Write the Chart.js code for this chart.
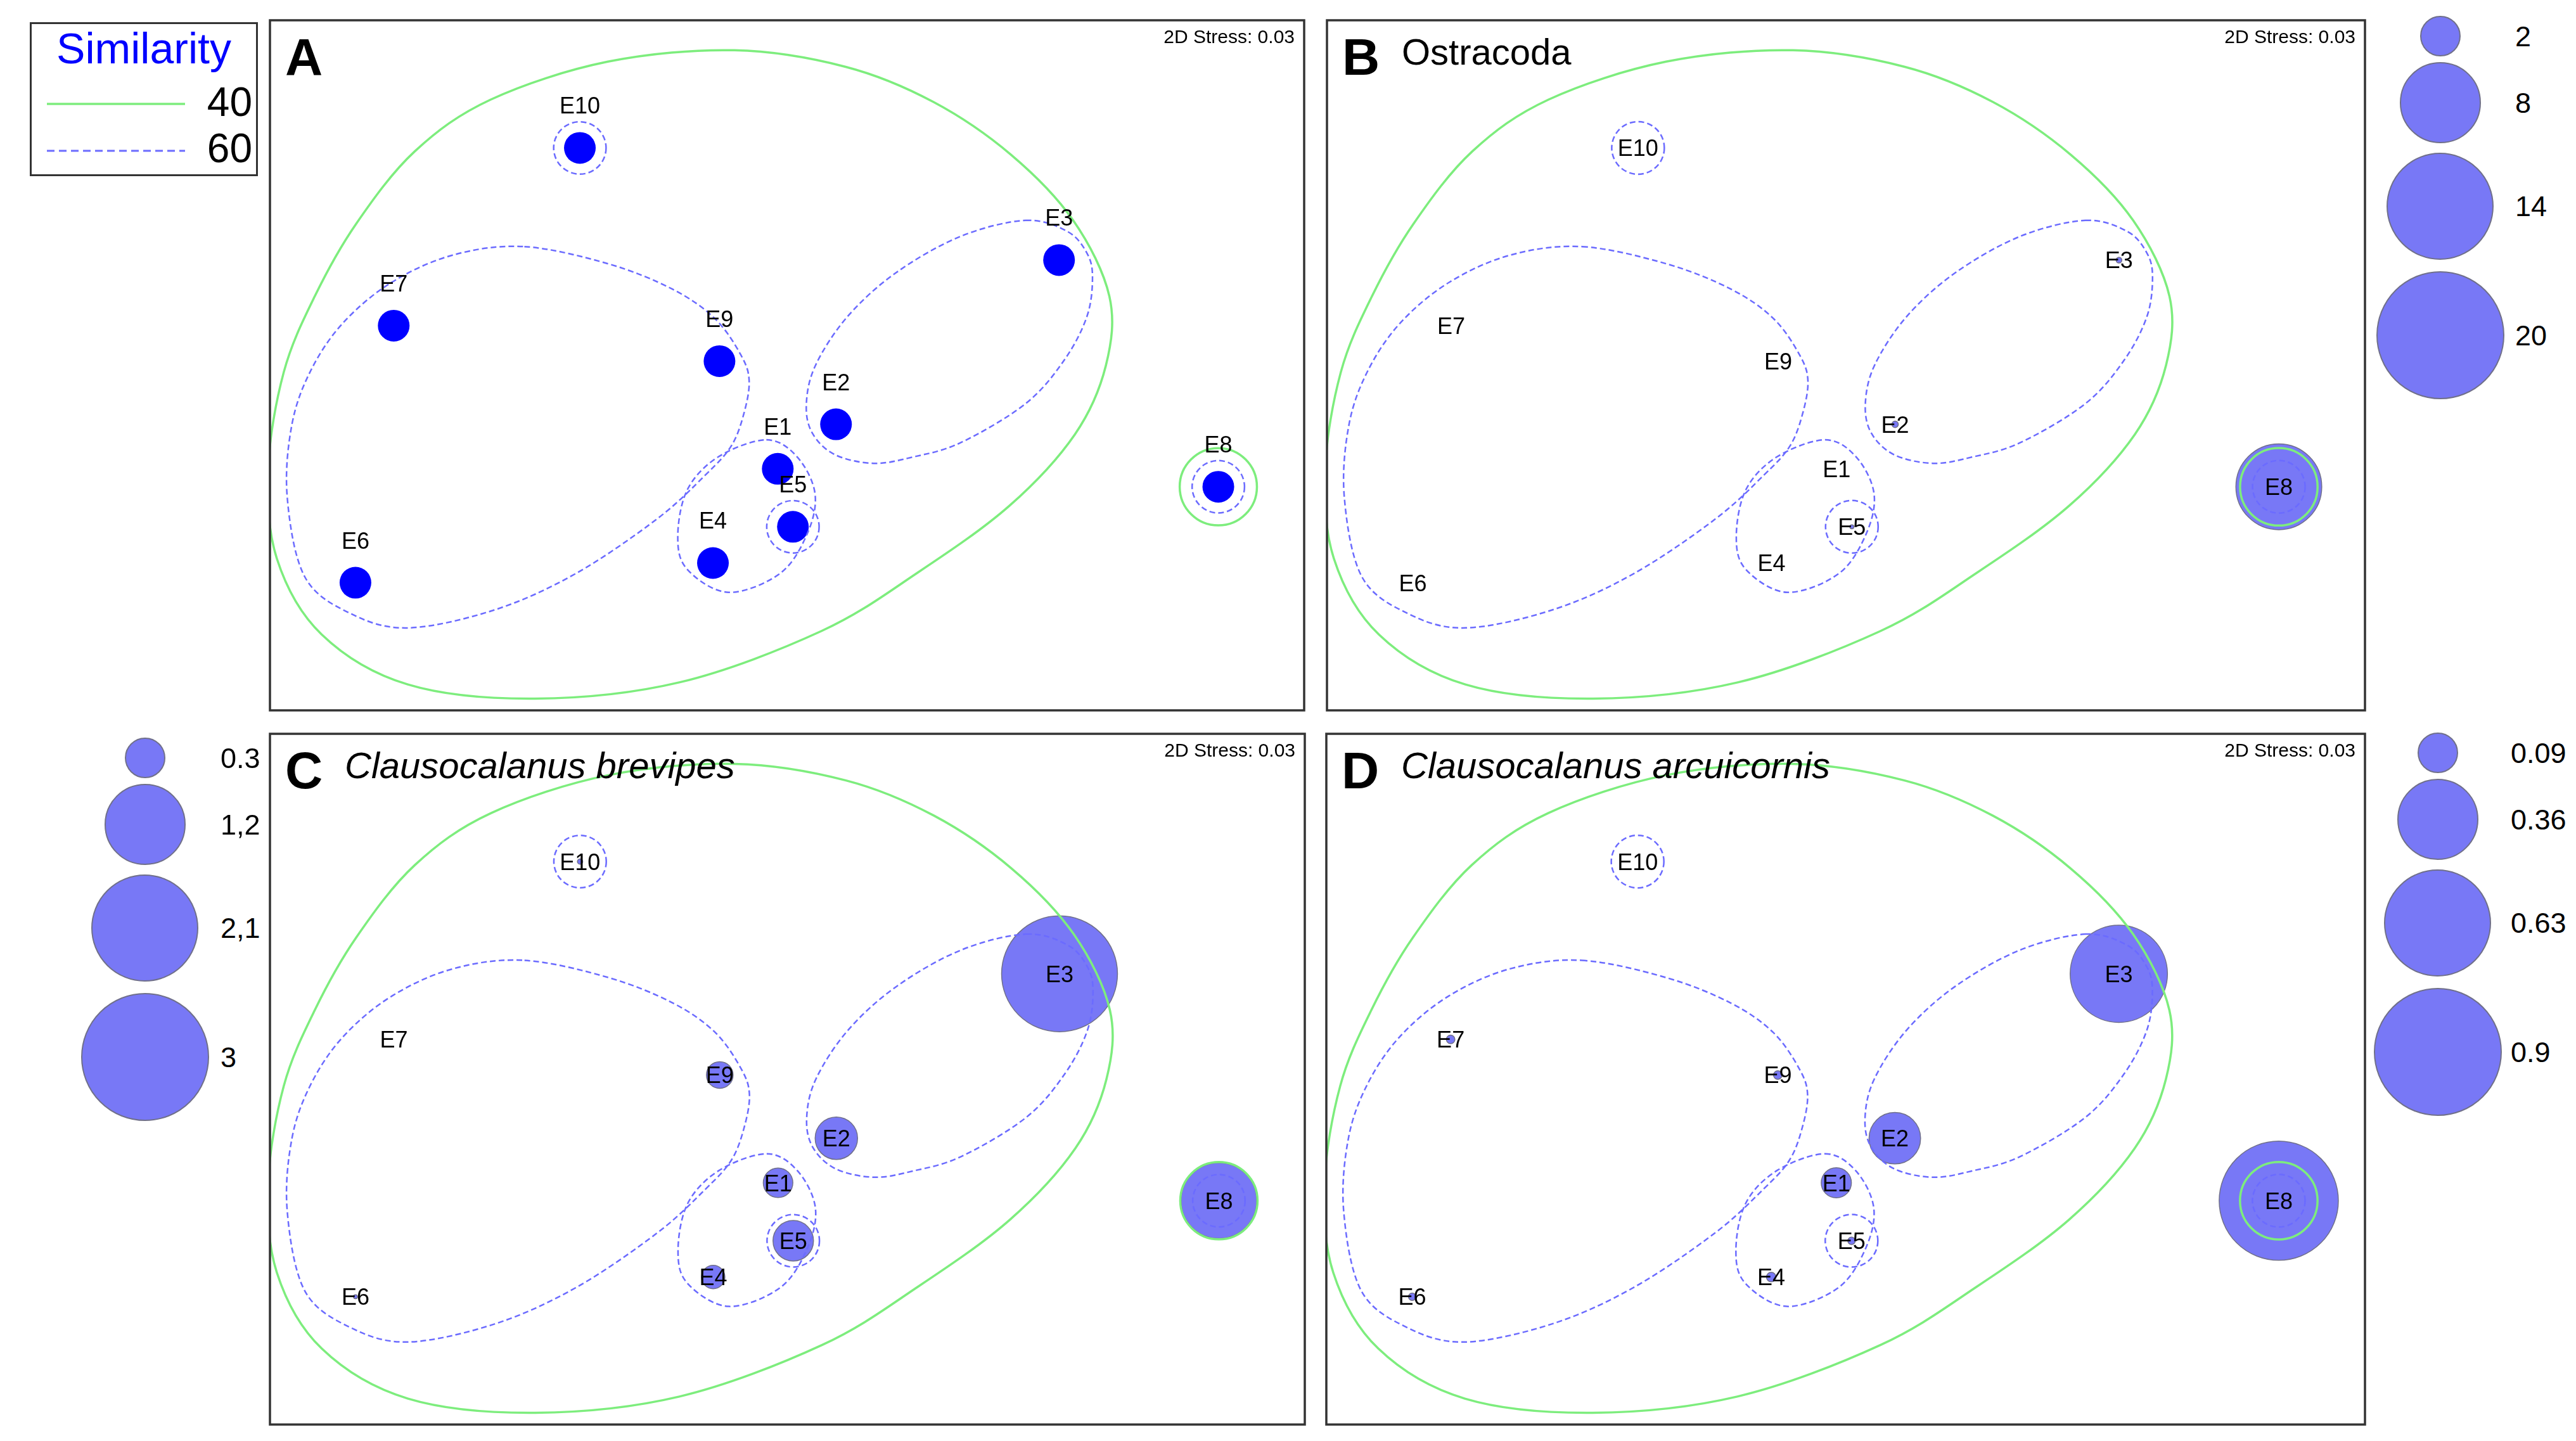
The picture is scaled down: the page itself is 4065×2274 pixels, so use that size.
<!DOCTYPE html>
<html>
<head>
<meta charset="utf-8">
<script src="https://cdn.jsdelivr.net/npm/chart.js@4.4.1/dist/chart.umd.min.js"></script>
<style>
  html, body { margin: 0; padding: 0; background: #fff; }
  body { width: 4065px; height: 2274px; position: relative; overflow: hidden; font-family: "Liberation Sans", Arial, sans-serif; }
  .abs { position: absolute; }
  .txt { position: absolute; line-height: 1; white-space: nowrap; color: #000; }
  .key-dot { position: absolute; border-radius: 50%; box-sizing: border-box; }
</style>
</head>
<body>
<div class="abs" style="left:47px;top:35px;width:360px;height:243px;border:3px solid #333;box-sizing:border-box;"></div>
<div class="txt" style="left:47px;top:42px;width:360px;text-align:center;font-size:68px;color:#0000ff;">Similarity</div>
<div class="txt" style="right:3667px;top:129px;font-size:64px;">40</div>
<div class="txt" style="right:3667px;top:202px;font-size:64px;">60</div>
<svg class="abs" style="left:0;top:0" width="420" height="300">
  <line x1="74" y1="164" x2="292" y2="164" stroke="#7ded7d" stroke-width="3.5"/>
  <line x1="74" y1="238" x2="292" y2="238" stroke="#6b6bff" stroke-width="3" stroke-dasharray="12 7"/>
</svg>

<script>
// station order and NMDS coordinates
const stations = ["E1", "E2", "E3", "E4", "E5", "E6", "E7", "E8", "E9", "E10"];
const mdsX = [-0.027, 0.142, 0.789, -0.215, 0.017, -1.252, -1.141, 1.251, -0.196, -0.601];
const mdsY = [-0.300, -0.171, 0.305, -0.573, -0.468, -0.630, 0.115, -0.352, 0.012, 0.630];

// abundances per station (E1..E10)
const ostracoda = [0, 0.05, 0.04, 0, 0.02, 0, 0, 9.0, 0, 0];
const brevipes = [0.16, 0.33, 2.46, 0.10, 0.30, 0.003, 0, 1.05, 0.13, 0.005];
const arcuicornis = [0.05, 0.146, 0.52, 0.005, 0.003, 0.003, 0.004, 0.78, 0.004, 0];

// bubble size keys
const ostracodaKey = [2, 8, 14, 20];
const ostracodaKeyText = ["2", "8", "14", "20"];
const brevipesKey = [0.3, 1.2, 2.1, 3];
const brevipesKeyText = ["0.3", "1,2", "2,1", "3"];
const arcuicornisKey = [0.09, 0.36, 0.63, 0.9];
const arcuicornisKeyText = ["0.09", "0.36", "0.63", "0.9"];

// cluster outlines in NMDS units
const group40 = [
  [-0.153, 0.913], [0.170, 0.865], [0.425, 0.763], [0.650, 0.610], [0.830, 0.420],
  [0.935, 0.200], [0.925, 0.000], [0.835, -0.200], [0.645, -0.407], [0.380, -0.600],
  [0.100, -0.770], [-0.313, -0.919], [-0.731, -0.966], [-1.100, -0.925], [-1.350, -0.780],
  [-1.480, -0.560], [-1.505, -0.300], [-1.460, -0.020], [-1.370, 0.200], [-1.250, 0.410],
  [-1.080, 0.620], [-0.860, 0.770], [-0.520, 0.880],
];
const group60Left = [
  [-0.762, 0.344], [-0.518, 0.294], [-0.331, 0.220], [-0.209, 0.135], [-0.134, 0.030],
  [-0.110, -0.044], [-0.125, -0.139], [-0.162, -0.234], [-0.237, -0.318], [-0.377, -0.445],
  [-0.612, -0.603], [-0.846, -0.708], [-1.099, -0.761], [-1.267, -0.719], [-1.399, -0.613],
  [-1.450, -0.381], [-1.436, -0.170], [-1.380, -0.012], [-1.286, 0.125], [-1.146, 0.241],
  [-0.968, 0.320],
];
const group60Right = [
  [0.692, 0.420], [0.813, 0.388], [0.870, 0.325], [0.886, 0.255], [0.870, 0.142],
  [0.804, 0.015], [0.692, -0.111], [0.504, -0.224], [0.364, -0.266], [0.251, -0.284],
  [0.139, -0.259], [0.073, -0.196], [0.056, -0.111], [0.083, 0.001], [0.176, 0.142],
  [0.317, 0.269], [0.504, 0.374],
];
const group60Mid = [
  [-0.060, -0.216], [0.029, -0.265], [0.081, -0.371], [0.059, -0.487], [-0.020, -0.603],
  [-0.170, -0.658], [-0.289, -0.592], [-0.317, -0.497], [-0.289, -0.360], [-0.199, -0.265],
];
const single60 = ["E5", "E8", "E10"];
const single40 = ["E8"];

const FONT = '"Liberation Sans", Arial, sans-serif';
const GREEN = "#7ded7d";
const DASH_BLUE = "#6b6bff";
const BUBBLE_FILL = "#7878f6";
const BUBBLE_EDGE = "#70708a";
const R_MAX = 101;
const PAD = 4;

const bubbleRadius = (v, max) => R_MAX * Math.sqrt(v / max);

function closedSpline(ctx, pts) {
  const n = pts.length;
  ctx.moveTo(pts[0][0], pts[0][1]);
  for (let i = 0; i < n; i++) {
    const p0 = pts[(i - 1 + n) % n];
    const p1 = pts[i];
    const p2 = pts[(i + 1) % n];
    const p3 = pts[(i + 2) % n];
    ctx.bezierCurveTo(
      p1[0] + (p2[0] - p0[0]) / 6, p1[1] + (p2[1] - p0[1]) / 6,
      p2[0] - (p3[0] - p1[0]) / 6, p2[1] - (p3[1] - p1[1]) / 6,
      p2[0], p2[1],
    );
  }
  ctx.closePath();
}

const contourPlugin = {
  id: "contours",
  afterDatasetsDraw(chart) {
    const { ctx, chartArea: a, scales: { x, y } } = chart;
    const toPx = ([u, v]) => [x.getPixelForValue(u), y.getPixelForValue(v)];
    const unit = x.getPixelForValue(1) - x.getPixelForValue(0);
    const at = (name) => {
      const i = stations.indexOf(name);
      return toPx([mdsX[i], mdsY[i]]);
    };
    ctx.save();
    ctx.beginPath();
    ctx.rect(a.left, a.top, a.width, a.height);
    ctx.clip();

    ctx.strokeStyle = GREEN;
    ctx.lineWidth = 3.5;
    ctx.setLineDash([]);
    ctx.beginPath();
    closedSpline(ctx, group40.map(toPx));
    ctx.stroke();
    single40.forEach((s) => {
      const [px, py] = at(s);
      ctx.beginPath();
      ctx.arc(px, py, 0.112 * unit, 0, Math.PI * 2);
      ctx.stroke();
    });

    ctx.strokeStyle = DASH_BLUE;
    ctx.lineWidth = 2.5;
    ctx.setLineDash([9, 5]);
    [group60Left, group60Right, group60Mid].forEach((g) => {
      ctx.beginPath();
      closedSpline(ctx, g.map(toPx));
      ctx.stroke();
    });
    single60.forEach((s) => {
      const [px, py] = at(s);
      ctx.beginPath();
      ctx.arc(px, py, 0.076 * unit, 0, Math.PI * 2);
      ctx.stroke();
    });
    ctx.restore();
  },
};

const labelPlugin = {
  id: "stationLabels",
  afterDraw(chart, args, opts) {
    const { ctx, chartArea: a, scales: { x, y } } = chart;
    ctx.save();
    ctx.font = `36px ${FONT}`;
    ctx.fillStyle = "#000";
    ctx.textAlign = "center";
    ctx.textBaseline = "alphabetic";
    stations.forEach((s, i) => {
      ctx.fillText(s, x.getPixelForValue(mdsX[i]), y.getPixelForValue(mdsY[i]) - opts.lift + 13);
    });
    ctx.strokeStyle = "#333";
    ctx.lineWidth = 3.5;
    ctx.setLineDash([]);
    ctx.strokeRect(a.left, a.top, a.width, a.height);
    ctx.restore();
  },
};

const panels = [
  { letter: "A", box: [426, 32, 2058, 1121], values: null },
  { letter: "B", box: [2094, 32, 3732, 1121], values: ostracoda, keyMax: 20, title: "Ostracoda", italic: false },
  { letter: "C", box: [426, 1158, 2059, 2248], values: brevipes, keyMax: 3, title: "Clausocalanus brevipes", italic: true },
  { letter: "D", box: [2093, 1158, 3732, 2248], values: arcuicornis, keyMax: 0.9, title: "Clausocalanus arcuicornis", italic: true },
];

function addText(text, style) {
  const el = document.createElement("div");
  el.className = "txt";
  el.textContent = text;
  Object.assign(el.style, style);
  document.body.appendChild(el);
}

function renderPanel(p) {
  const [l, t, r, b] = p.box;
  const w = r - l + 2 * PAD;
  const h = b - t + 2 * PAD;
  const canvas = document.createElement("canvas");
  canvas.width = w;
  canvas.height = h;
  canvas.className = "abs";
  Object.assign(canvas.style, { left: `${l - PAD}px`, top: `${t - PAD}px`, width: `${w}px`, height: `${h}px` });
  document.body.appendChild(canvas);

  const bubbles = !!p.values;
  const points = stations.map((s, i) => ({
    x: mdsX[i],
    y: mdsY[i],
    r: bubbles ? bubbleRadius(p.values[i], p.keyMax) : 25,
  }));

  new Chart(canvas, {
    type: bubbles ? "bubble" : "scatter",
    data: {
      datasets: [
        {
          data: points,
          backgroundColor: bubbles ? BUBBLE_FILL : "#0000ff",
          borderColor: BUBBLE_EDGE,
          borderWidth: bubbles ? 1.5 : 0,
          pointRadius: 25,
        },
      ],
    },
    options: {
      responsive: false,
      animation: false,
      events: [],
      layout: { padding: PAD, autoPadding: false },
      scales: {
        x: { type: "linear", min: -1.5, max: 1.5, display: false },
        y: { type: "linear", min: -1, max: 1, display: false },
      },
      plugins: {
        legend: { display: false },
        tooltip: { enabled: false },
        stationLabels: { lift: bubbles ? 0 : 67 },
      },
    },
    plugins: [contourPlugin, labelPlugin],
  });

  addText(p.letter, { left: `${l + 24}px`, top: `${t + 17}px`, fontSize: "82px", fontWeight: "bold" });
  if (p.title) {
    addText(p.title, {
      left: `${l + 118}px`, top: `${t + 21}px`, fontSize: "58px",
      fontStyle: p.italic ? "italic" : "normal",
    });
  }
  addText("2D Stress: 0.03", { right: `${4065 - (r - 15)}px`, top: `${t + 11}px`, fontSize: "30px" });
}

function renderSizeKey(values, texts, max, cx, top, labelX) {
  let y = top;
  values.forEach((v, i) => {
    const r = bubbleRadius(v, max);
    const h = 2.2 * r;
    const cy = y + h / 2;
    const dot = document.createElement("div");
    dot.className = "key-dot";
    Object.assign(dot.style, {
      left: `${cx - r}px`, top: `${cy - r}px`, width: `${2 * r}px`, height: `${2 * r}px`,
      background: BUBBLE_FILL, border: `2px solid ${BUBBLE_EDGE}`,
    });
    document.body.appendChild(dot);
    addText(texts[i], { left: `${labelX}px`, top: `${cy - 22}px`, fontSize: "45px" });
    y += h;
  });
}

panels.forEach(renderPanel);
renderSizeKey(ostracodaKey, ostracodaKeyText, 20, 3851, 21.6, 3969);
renderSizeKey(brevipesKey, brevipesKeyText, 3, 229, 1160.6, 348);
renderSizeKey(arcuicornisKey, arcuicornisKeyText, 0.9, 3847, 1152.6, 3962);
</script>
</body>
</html>
